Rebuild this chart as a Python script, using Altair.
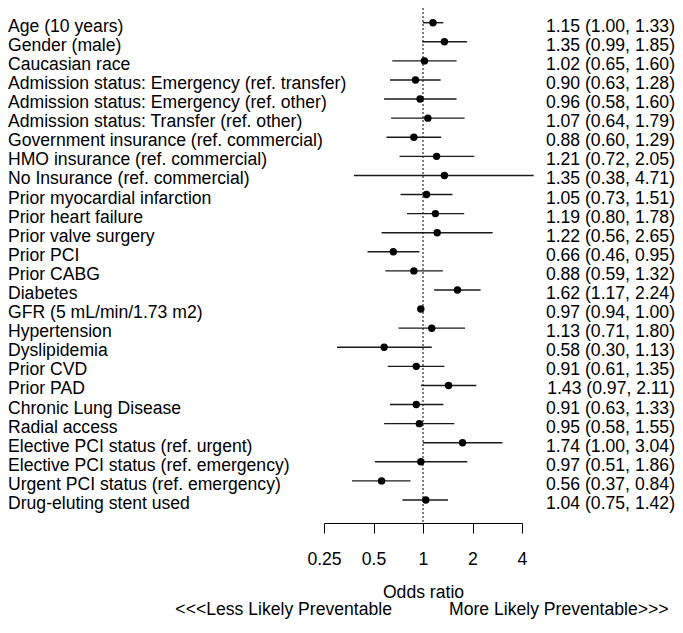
import altair as alt
import pandas as pd

labels = [
    "Age (10 years)", "Gender (male)", "Caucasian race",
    "Admission status: Emergency (ref. transfer)",
    "Admission status: Emergency (ref. other)",
    "Admission status: Transfer (ref. other)",
    "Government insurance (ref. commercial)",
    "HMO insurance (ref. commercial)",
    "No Insurance (ref. commercial)",
    "Prior myocardial infarction", "Prior heart failure", "Prior valve surgery",
    "Prior PCI", "Prior CABG", "Diabetes", "GFR (5 mL/min/1.73 m2)",
    "Hypertension", "Dyslipidemia", "Prior CVD", "Prior PAD",
    "Chronic Lung Disease", "Radial access",
    "Elective PCI status (ref. urgent)",
    "Elective PCI status (ref. emergency)",
    "Urgent PCI status (ref. emergency)",
    "Drug-eluting stent used",
]
odds = [1.15, 1.35, 1.02, 0.90, 0.96, 1.07, 0.88, 1.21, 1.35, 1.05, 1.19, 1.22, 0.66,
        0.88, 1.62, 0.97, 1.13, 0.58, 0.91, 1.43, 0.91, 0.95, 1.74, 0.97, 0.56, 1.04]
lower = [1.00, 0.99, 0.65, 0.63, 0.58, 0.64, 0.60, 0.72, 0.38, 0.73, 0.80, 0.56, 0.46,
         0.59, 1.17, 0.94, 0.71, 0.30, 0.61, 0.97, 0.63, 0.58, 1.00, 0.51, 0.37, 0.75]
upper = [1.33, 1.85, 1.60, 1.28, 1.60, 1.79, 1.29, 2.05, 4.71, 1.51, 1.78, 2.65, 0.95,
         1.32, 2.24, 1.00, 1.80, 1.13, 1.35, 2.11, 1.33, 1.55, 3.04, 1.86, 0.84, 1.42]
tick_values = [0.25, 0.5, 1, 2, 4]

df = pd.DataFrame({"label": labels, "or": odds, "lo": lower, "hi": upper})
df["txt"] = [f"{o:.2f} ({l:.2f}, {h:.2f})" for o, l, h in zip(odds, lower, upper)]

FONT = "Liberation Sans"
FS = 17.6

xscale = alt.Scale(type="log", domain=[0.25, 4], range=[316, 514], nice=False, clamp=False)
yenc = alt.Y("label:O", sort=None, axis=None,
             scale=alt.Scale(type="point", range=[14.7, 492], padding=0))

base = alt.Chart(df)

xaxis = alt.Axis(values=tick_values, format="~g", grid=False, domainColor="black",
                 tickColor="black", tickSize=10, labelColor="black", labelFont=FONT,
                 labelFontSize=FS, labelPadding=17, labelFlush=False, labelOverlap=False,
                 title="Odds ratio", titleFont=FONT,
                 titleFontSize=FS, titleFontWeight="normal", titleColor="black",
                 titleBaseline="middle", titleY=69, domainWidth=1, tickWidth=1)

ci = base.mark_rule(color="#1a1a1a", strokeWidth=1.4).encode(
    x=alt.X("lo:Q", scale=xscale, axis=xaxis), x2="hi:Q", y=yenc)
pts = base.mark_point(filled=True, shape="circle", size=55, color="black", opacity=1).encode(
    x=alt.X("or:Q", scale=xscale), y=yenc)
ref = alt.Chart(pd.DataFrame({"v": [1]})).mark_rule(
    color="black", strokeDash=[2, 2], strokeWidth=1).encode(
    x=alt.X("v:Q", scale=xscale), y=alt.value(0), y2=alt.value(515))
lab = base.mark_text(align="left", baseline="middle", dy=4, font=FONT, fontSize=FS,
                     color="black").encode(x=alt.value(0), y=yenc, text="label:N")
rtxt = base.mark_text(align="right", baseline="middle", dy=4, font=FONT, fontSize=FS,
                      color="black").encode(x=alt.value(667), y=yenc, text="txt:N")
left_note = alt.Chart(pd.DataFrame({"t": ["<<<Less Likely Preventable"]})).mark_text(
    align="right", baseline="alphabetic", font=FONT, fontSize=FS, color="black").encode(
    x=alt.value(384), y=alt.value(607), text="t:N")
right_note = alt.Chart(pd.DataFrame({"t": ["More Likely Preventable>>>"]})).mark_text(
    align="left", baseline="alphabetic", font=FONT, fontSize=FS, color="black").encode(
    x=alt.value(441), y=alt.value(607), text="t:N")

chart = alt.layer(ref, ci, pts, lab, rtxt, left_note, right_note).properties(
    width=667, height=515,
    background="white",
    autosize=alt.AutoSizeParams(type="none"),
    padding={"left": 0, "top": 0, "right": 0, "bottom": 97},
).configure_view(stroke=None)

chart.save("out.html", embed_options={"renderer": "svg", "actions": False})
